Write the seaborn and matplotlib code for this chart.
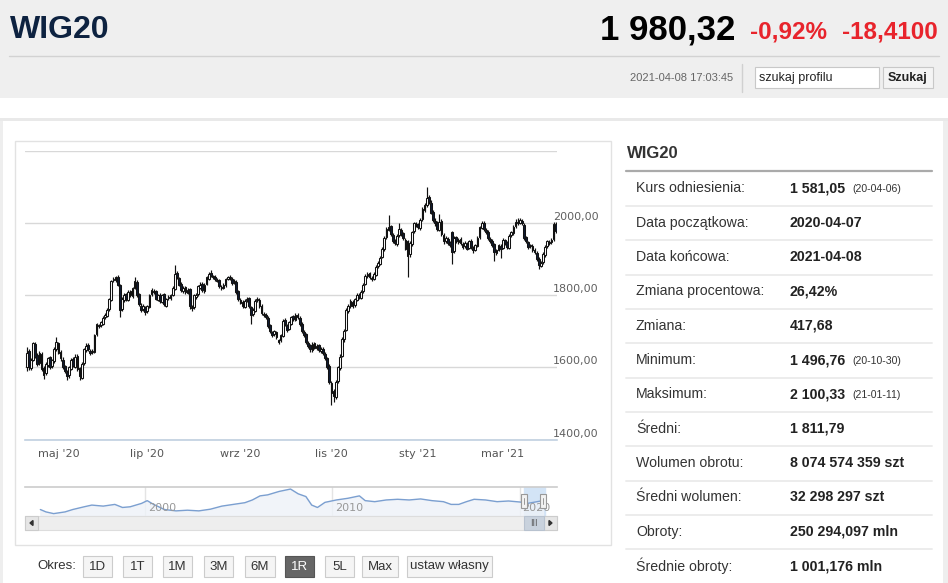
import matplotlib
matplotlib.use("Agg")
import numpy as np
import pandas as pd
import matplotlib.pyplot as plt
import seaborn as sns
from matplotlib.patches import Rectangle, Polygon
from matplotlib.transforms import offset_copy

# --- Daily OHLC of WIG20, 2020-04-07 .. 2021-04-08 ---
opens = [
    1600, 1645, 1598, 1622, 1665, 1634, 1612, 1636, 1598, 1584,
    1606, 1628, 1603, 1617, 1652, 1668, 1644, 1622, 1603, 1588,
    1578, 1597, 1624, 1602, 1633, 1598, 1572, 1613, 1648, 1663,
    1647, 1642, 1643, 1693, 1718, 1717, 1722, 1740, 1743, 1762,
    1788, 1842, 1843, 1852, 1828, 1763, 1787, 1803, 1788, 1812,
    1798, 1822, 1838, 1803, 1772, 1763, 1768, 1757, 1768, 1803,
    1813, 1812, 1788, 1802, 1783, 1803, 1772, 1793, 1792, 1802,
    1818, 1863, 1848, 1833, 1812, 1823, 1807, 1817, 1768, 1767,
    1795, 1803, 1822, 1833, 1812, 1833, 1847, 1862, 1853, 1852,
    1843, 1842, 1823, 1822, 1828, 1847, 1852, 1846, 1837, 1838,
    1812, 1788, 1782, 1768, 1787, 1792, 1768, 1748, 1758, 1787,
    1788, 1772, 1748, 1747, 1738, 1717, 1698, 1692, 1698, 1676,
    1675, 1688, 1732, 1718, 1707, 1722, 1742, 1733, 1747, 1738,
    1722, 1698, 1692, 1668, 1662, 1648, 1667, 1653, 1662, 1646,
    1652, 1638, 1627, 1605, 1558, 1535, 1518, 1562, 1598, 1632,
    1678, 1705, 1757, 1772, 1783, 1773, 1788, 1802, 1793, 1812,
    1832, 1853, 1862, 1848, 1847, 1858, 1882, 1888, 1907, 1928,
    1962, 1983, 1992, 1968, 1952, 1943, 1967, 1983, 1972, 1955,
    1950, 1915, 1942, 1978, 1998, 1997, 1988, 2012, 2038, 2052,
    2072, 2058, 2032, 2008, 2002, 1983, 2007, 1968, 1952, 1958,
    1947, 1975, 1922, 1962, 1948, 1957, 1943, 1937, 1943, 1932,
    1952, 1933, 1927, 1938, 1962, 1988, 2002, 1983, 1977, 1958,
    1952, 1942, 1918, 1927, 1938, 1932, 1953, 1947, 1933, 1967,
    1973, 1992, 2003, 2002, 2008, 1995, 1962, 1948, 1937, 1938,
    1927, 1918, 1902, 1883, 1892, 1913, 1937, 1948, 1947, 1957,
    1998]
highs = [
    1656, 1650, 1626, 1672, 1670, 1640, 1645, 1642, 1604, 1615,
    1630, 1633, 1624, 1656, 1685, 1672, 1648, 1628, 1608, 1592,
    1604, 1626, 1629, 1636, 1638, 1602, 1614, 1654, 1668, 1667,
    1652, 1650, 1694, 1724, 1722, 1730, 1742, 1750, 1764, 1794,
    1844, 1852, 1855, 1856, 1832, 1795, 1806, 1808, 1815, 1816,
    1824, 1852, 1842, 1808, 1778, 1775, 1772, 1774, 1804, 1820,
    1818, 1816, 1805, 1806, 1804, 1807, 1794, 1800, 1804, 1825,
    1885, 1868, 1852, 1836, 1825, 1826, 1820, 1820, 1774, 1804,
    1806, 1829, 1836, 1837, 1834, 1854, 1865, 1870, 1857, 1856,
    1848, 1846, 1828, 1834, 1849, 1855, 1856, 1850, 1845, 1842,
    1816, 1794, 1786, 1789, 1795, 1796, 1772, 1764, 1789, 1795,
    1793, 1776, 1753, 1750, 1742, 1720, 1702, 1704, 1702, 1680,
    1694, 1735, 1738, 1722, 1729, 1744, 1747, 1750, 1752, 1742,
    1726, 1703, 1696, 1673, 1666, 1670, 1672, 1664, 1666, 1656,
    1656, 1643, 1630, 1609, 1562, 1540, 1564, 1605, 1636, 1684,
    1706, 1764, 1775, 1790, 1788, 1794, 1806, 1806, 1814, 1834,
    1860, 1866, 1866, 1853, 1864, 1884, 1895, 1910, 1934, 1964,
    1990, 2022, 1996, 1973, 1956, 1970, 2000, 1988, 1976, 1960,
    1955, 1950, 1980, 2005, 2004, 2001, 2015, 2045, 2057, 2100,
    2080, 2064, 2036, 2014, 2008, 2025, 2012, 1974, 1966, 1963,
    1952, 1980, 1965, 1966, 1960, 1962, 1948, 1950, 1948, 1955,
    1957, 1938, 1944, 1965, 1994, 2008, 2006, 1988, 1981, 1963,
    1956, 1946, 1930, 1944, 1942, 1960, 1958, 1952, 1970, 1980,
    1995, 2012, 2015, 2016, 2013, 2000, 1966, 1952, 1944, 1942,
    1932, 1922, 1906, 1895, 1920, 1940, 1955, 1953, 1960, 2004,
    2003]
lows = [
    1590, 1592, 1594, 1618, 1626, 1603, 1608, 1590, 1568, 1579,
    1601, 1595, 1598, 1612, 1647, 1636, 1619, 1596, 1584, 1564,
    1572, 1593, 1600, 1598, 1590, 1565, 1568, 1608, 1644, 1646,
    1634, 1637, 1640, 1688, 1710, 1712, 1718, 1735, 1740, 1758,
    1785, 1836, 1838, 1826, 1740, 1758, 1782, 1785, 1784, 1795,
    1794, 1818, 1796, 1770, 1755, 1758, 1745, 1752, 1765, 1799,
    1805, 1786, 1784, 1780, 1779, 1770, 1768, 1788, 1788, 1798,
    1815, 1845, 1826, 1810, 1808, 1805, 1803, 1762, 1758, 1762,
    1790, 1798, 1818, 1810, 1808, 1828, 1843, 1850, 1845, 1840,
    1836, 1820, 1815, 1818, 1824, 1843, 1843, 1830, 1832, 1805,
    1785, 1775, 1764, 1764, 1783, 1765, 1722, 1743, 1754, 1783,
    1765, 1746, 1740, 1735, 1710, 1695, 1684, 1688, 1680, 1666,
    1670, 1684, 1715, 1698, 1703, 1718, 1730, 1728, 1735, 1715,
    1695, 1685, 1665, 1655, 1642, 1644, 1650, 1648, 1642, 1640,
    1635, 1620, 1595, 1553, 1497, 1505, 1512, 1557, 1593, 1628,
    1672, 1700, 1752, 1766, 1765, 1768, 1784, 1789, 1789, 1808,
    1828, 1848, 1846, 1840, 1842, 1854, 1877, 1884, 1903, 1924,
    1958, 1978, 1965, 1945, 1940, 1938, 1962, 1965, 1955, 1925,
    1852, 1908, 1938, 1972, 1990, 1984, 1983, 2007, 2032, 2046,
    2055, 2025, 2004, 1993, 1978, 1978, 1965, 1944, 1946, 1940,
    1934, 1888, 1918, 1945, 1944, 1940, 1928, 1932, 1925, 1928,
    1930, 1918, 1922, 1934, 1958, 1984, 1980, 1970, 1955, 1945,
    1935, 1895, 1912, 1922, 1904, 1928, 1940, 1930, 1928, 1962,
    1968, 1987, 1995, 1997, 1995, 1955, 1945, 1930, 1932, 1920,
    1915, 1895, 1874, 1878, 1888, 1908, 1932, 1940, 1942, 1952,
    1972]
closes = [
    1640, 1600, 1620, 1668, 1630, 1610, 1640, 1595, 1580, 1610,
    1625, 1600, 1620, 1650, 1670, 1640, 1625, 1600, 1590, 1575,
    1600, 1620, 1605, 1630, 1595, 1575, 1610, 1650, 1660, 1650,
    1640, 1645, 1690, 1720, 1715, 1725, 1738, 1745, 1760, 1790,
    1840, 1845, 1850, 1830, 1760, 1790, 1800, 1790, 1810, 1800,
    1820, 1840, 1800, 1775, 1760, 1770, 1755, 1770, 1800, 1815,
    1810, 1790, 1800, 1785, 1800, 1775, 1790, 1795, 1800, 1820,
    1860, 1850, 1830, 1815, 1820, 1810, 1815, 1770, 1765, 1800,
    1800, 1825, 1830, 1815, 1830, 1850, 1860, 1855, 1850, 1845,
    1840, 1825, 1820, 1830, 1845, 1850, 1848, 1835, 1840, 1810,
    1790, 1780, 1770, 1785, 1790, 1770, 1745, 1760, 1785, 1790,
    1770, 1750, 1745, 1740, 1715, 1700, 1690, 1700, 1685, 1672,
    1690, 1730, 1720, 1705, 1725, 1740, 1735, 1745, 1740, 1720,
    1700, 1690, 1670, 1660, 1650, 1665, 1655, 1660, 1648, 1650,
    1640, 1625, 1600, 1560, 1530, 1520, 1560, 1600, 1630, 1680,
    1700, 1760, 1770, 1785, 1770, 1790, 1800, 1795, 1810, 1830,
    1855, 1860, 1850, 1845, 1860, 1880, 1890, 1905, 1930, 1960,
    1985, 1990, 1970, 1950, 1945, 1965, 1985, 1970, 1960, 1930,
    1910, 1945, 1975, 2000, 1995, 1990, 2010, 2040, 2050, 2070,
    2060, 2030, 2010, 2000, 1985, 2005, 1970, 1950, 1960, 1945,
    1940, 1920, 1960, 1950, 1955, 1945, 1935, 1945, 1930, 1950,
    1935, 1925, 1940, 1960, 1990, 2000, 1985, 1975, 1960, 1950,
    1940, 1920, 1925, 1940, 1930, 1955, 1945, 1935, 1965, 1975,
    1990, 2005, 2000, 2010, 2000, 1960, 1950, 1935, 1940, 1925,
    1920, 1900, 1885, 1890, 1915, 1935, 1950, 1945, 1955, 1999,
    1980]

# month ticks (trading-day index) and labels
month_ticks = [15, 57, 101, 144, 185, 225]
month_labels = ["maj '20", "lip '20", "wrz '20", "lis '20", "sty '21", "mar '21"]
grid_levels = [1400, 1600, 1800, 2000, 2200]
label_levels = [1400, 1600, 1800, 2000]

# navigator: long history of the index
nav_years = [1994.39, 1994.69, 1995.10, 1995.71, 1996.12, 1996.73, 1997.14, 1997.75, 1998.37,
             1998.78, 1999.19, 1999.80, 2000.10, 2000.41, 2001.02, 2001.64, 2002.25, 2002.86,
             2003.48, 2004.09, 2004.70, 2005.32, 2005.72, 2006.13, 2006.54, 2007.15, 2007.76,
             2008.17, 2008.58, 2008.89, 2009.20, 2009.60, 2010.21, 2010.83, 2011.44, 2011.75,
             2012.26, 2012.87, 2013.48, 2014.10, 2014.71, 2015.32, 2015.93, 2016.34, 2016.75,
             2017.16, 2017.57, 2018.18, 2018.80, 2019.41, 2020.02, 2020.43, 2021.25]
nav_values = [1150, 829, 600, 829, 1150, 1517, 1746, 1608, 1837, 1425, 1517, 1975, 2342, 1883,
              1150, 967, 1058, 967, 1196, 1608, 1837, 2067, 2433, 2983, 3121, 3579, 3900, 3258,
              2892, 1746, 1425, 2112, 2433, 2662, 2983, 2342, 2204, 2433, 2525, 2433, 2571, 2342,
              2204, 1837, 1837, 2204, 2525, 2433, 2204, 2296, 2158, 1975, 2342]
nav_decades = [2000, 2010, 2020]
nav_selection = [2020.25, 2021.35]

# side table
stat_labels = ["Kurs odniesienia:", "Data początkowa:", "Data końcowa:", "Zmiana procentowa:",
               "Zmiana:", "Minimum:", "Maksimum:", "Średni:", "Wolumen obrotu:",
               "Średni wolumen:", "Obroty:", "Średnie obroty:"]
stat_values = ["1 581,05", "2020-04-07", "2021-04-08", "26,42%", "417,68", "1 496,76",
               "2 100,33", "1 811,79", "8 074 574 359 szt", "32 298 297 szt",
               "250 294,097 mln", "1 001,176 mln"]
stat_notes = ["(20-04-06)", "", "", "", "", "(20-10-30)", "(21-01-11)", "", "", "", "", ""]

period_buttons = ["1D", "1T", "1M", "3M", "6M", "1R", "5L", "Max", "ustaw własny"]
active_period = "1R"

df = pd.DataFrame({"open": opens, "high": highs, "low": lows, "close": closes})
df["idx"] = np.arange(len(df))

sns.set_style("white")
plt.rcParams["font.family"] = ["DejaVu Sans"]

W, H = 948, 583
fig = plt.figure(figsize=(W / 100, H / 100), dpi=100)
SANS = ["Liberation Sans", "DejaVu Sans"]
NARROW = ["Liberation Sans Narrow", "Liberation Sans", "DejaVu Sans"]


def px_axes(x0, y0, x1, y1):
    return fig.add_axes([x0 / W, 1 - y1 / H, (x1 - x0) / W, (y1 - y0) / H])


def rect(a, x0, y0, x1, y1, fc, ec="none", lw=0.0, z=1):
    a.add_patch(Rectangle((x0, y0), x1 - x0, y1 - y0, facecolor=fc,
                          edgecolor=ec, linewidth=lw, zorder=z))


# --- page background ---
bg = fig.add_axes([0, 0, 1, 1])
bg.set_xlim(0, W)
bg.set_ylim(H, 0)
bg.axis("off")
rect(bg, 0, 0, W, 98, "#efefef")
rect(bg, 0, 98, W, 118, "white")
rect(bg, 0, 118, W, 121, "#e9e9e9")
rect(bg, 0, 121, 3, H, "#eeeeee")
rect(bg, 943, 121, W, H, "#eeeeee")
bg.plot([9, 939], [56, 56], color="#d2d2d2", lw=1)
bg.plot([742, 742], [64, 92], color="#d0d0d0", lw=1)

bg.text(10, 30, "WIG20", family=SANS, fontsize=23, fontweight="bold", color="#0d2240",
        va="center", ha="left")
bg.text(735, 30, "1 980,32", family=SANS, fontsize=25, fontweight="bold", color="black",
        va="center", ha="right")
bg.text(750, 32, "-0,92%", family=SANS, fontsize=17.5, fontweight="bold", color="#e8242c",
        va="center", ha="left")
bg.text(938, 32, "-18,4100", family=SANS, fontsize=17.5, fontweight="bold", color="#e8242c",
        va="center", ha="right")
bg.text(733, 78, "2021-04-08 17:03:45", family=NARROW, fontsize=8, color="#666666",
        va="center", ha="right")
rect(bg, 755, 67, 879, 88, "white", "#c8c8c8", 0.8, z=2)
bg.text(759, 77.5, "szukaj profilu", family=NARROW, fontsize=9, color="#222222",
        va="center", ha="left", zorder=3)
rect(bg, 883, 67, 933, 88, "#f4f4f4", "#c8c8c8", 0.8, z=2)
bg.text(908, 77.5, "Szukaj", family=NARROW, fontsize=9, fontweight="bold", color="#222222",
        va="center", ha="center", zorder=3)

# chart frame
rect(bg, 15, 141, 611, 545, "white", "#e2e2e2", 1.0, z=2)

# side table
bg.text(627, 153, "WIG20", family=SANS, fontsize=12, fontweight="bold", color="#333333",
        va="center", ha="left")
bg.plot([626, 932], [170.5, 170.5], color="#aaaaaa", lw=1.6)
row_y0, row_step = 188.3, 34.35
for i, (lab, val, note) in enumerate(zip(stat_labels, stat_values, stat_notes)):
    yy = row_y0 + i * row_step
    bg.text(636, yy, lab, family=SANS, fontsize=10.2, color="#333333", va="center", ha="left")
    bg.text(790, yy, val, family=SANS, fontsize=10.2, fontweight="bold", color="#222222",
            va="center", ha="left")
    if note:
        bg.text(852, yy + 1, note, family=SANS, fontsize=7.6, color="#333333",
                va="center", ha="left")
    bg.plot([626, 932], [yy + 17.5, yy + 17.5], color="#ececec", lw=1.4)

# period buttons
bg.text(37, 566, "Okres:", family=NARROW, fontsize=9.5, color="#333333", va="center", ha="left")
btn_x = [(83, 112), (123, 152), (163, 192), (204, 233), (245, 275), (285, 314),
         (325, 354), (362, 398), (407, 492)]
for name, (x0, x1) in zip(period_buttons, btn_x):
    active = name == active_period
    rect(bg, x0, 556, x1, 577, "#666666" if active else "#f5f5f5",
         "#555555" if active else "#cccccc", 0.8, z=2)
    bg.text((x0 + x1) / 2, 566.5, name, family=NARROW, fontsize=9.5,
            color="white" if active else "#333333", va="center", ha="center", zorder=3)

# --- main candlestick chart ---
ax = px_axes(25, 151, 557, 439.5)
ax.set_facecolor("none")
ax.set_xlim(-0.8, 250.6)
ax.set_ylim(1400, 2201)
ax.set_yticks(grid_levels)
ax.yaxis.grid(True, color="#d8d8d8", lw=1)
ax.tick_params(axis="y", length=0, labelleft=False)
for s in ["left", "right", "top"]:
    ax.spines[s].set_visible(False)
ax.spines["bottom"].set_color("#c0d0e0")
ax.spines["bottom"].set_linewidth(1.2)
ax.set_xticks(month_ticks)
ax.set_xticklabels(month_labels)
ax.tick_params(axis="x", direction="out", length=6, width=1, color="#c0d0e0",
               labelcolor="#555555", labelsize=8, pad=1)

up = df["close"] >= df["open"]
body_lo = np.minimum(df["open"], df["close"])
body_h = np.maximum((df["close"] - df["open"]).abs(), 1.5)
ax.vlines(df["idx"], df["low"], df["high"], colors="#111111", linewidth=0.85, zorder=2)
ax.bar(df["idx"], body_h, bottom=body_lo, width=0.82,
       color=np.where(up, "white", "#0f1b33"), edgecolor="#111111", linewidth=0.75, zorder=3)

lab_tr = offset_copy(ax.get_yaxis_transform(), fig=fig, x=0, y=6, units="dots")
for v in label_levels:
    ax.text(0.9925, v, f"{v},00", transform=lab_tr, ha="left", va="center",
            fontsize=8, color="#606060", clip_on=False)

# --- navigator ---
nav = px_axes(25, 487, 557, 516)
nav.set_facecolor("none")
nav.set_xlim(1993.57, 2022.0)
nav.set_ylim(279, 4175)
nav.axvspan(nav_selection[0], nav_selection[1], color="#d3e4f6", zorder=0.5)
for d in nav_decades:
    nav.axvline(d, color="#e4e4e4", lw=1, zorder=0.6)
nav.fill_between(nav_years, nav_values, 279, color="#eef2f8", alpha=0.8, zorder=1)
sns.lineplot(x=nav_years, y=nav_values, ax=nav, color="#7b9fd0", lw=1, zorder=2)
nav.set_xticks([])
nav.set_yticks([])
for s in ["left", "right", "bottom"]:
    nav.spines[s].set_visible(False)
nav.spines["top"].set_color("#cccccc")
nav.spines["top"].set_linewidth(1.2)
dec_tr = offset_copy(nav.get_xaxis_transform(), fig=fig, x=3, y=0, units="dots")
for d in nav_decades:
    nav.text(d, 0.27, str(d), transform=dec_tr, ha="left", va="center",
             fontsize=8, color="#999999", zorder=4)

# --- scrollbar and navigator handles ---
fg = fig.add_axes([0, 0, 1, 1])
fg.set_facecolor("none")
fg.set_xlim(0, W)
fg.set_ylim(H, 0)
fg.axis("off")
rect(fg, 25, 516, 557, 530, "#eeeeee", "#dddddd", 0.8)
rect(fg, 25, 516, 38, 530, "#e6e6e6", "#cccccc", 0.8, z=2)
rect(fg, 544, 516, 557, 530, "#e6e6e6", "#cccccc", 0.8, z=2)
fg.add_patch(Polygon([[30, 523], [33, 520.5], [33, 525.5]], closed=True, color="#333333", zorder=3))
fg.add_patch(Polygon([[552, 523], [549, 520.5], [549, 525.5]], closed=True, color="#333333", zorder=3))
rect(fg, 524, 516, 544, 530, "#c9d2dd", "#b8c2cf", 0.8, z=2)
fg.text(534, 523, "III", fontsize=6, color="#555555", ha="center", va="center", zorder=3)
for hx in (521, 540):
    rect(fg, hx, 494, hx + 6, 508, "#f2f2f2", "#999999", 0.8, z=4)
    fg.plot([hx + 3, hx + 3], [498, 504], color="#999999", lw=0.7, zorder=5)

fig.savefig("out.png", dpi=100)
